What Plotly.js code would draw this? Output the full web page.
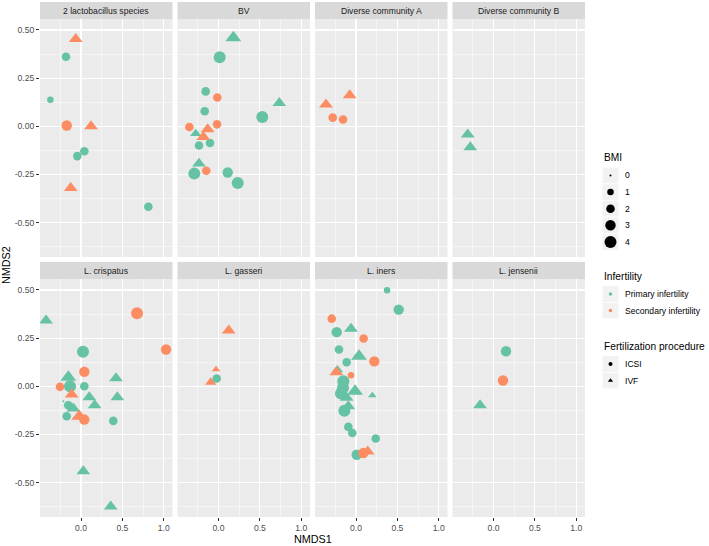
<!DOCTYPE html>
<html>
<head>
<meta charset="utf-8">
<script src="https://cdn.plot.ly/plotly-3.0.1.min.js"></script>
<style>
  html, body { margin: 0; padding: 0; background: #ffffff; }
  #nmds_plot { width: 709px; height: 546px; }
</style>
</head>
<body>
<div id="nmds_plot"></div>
<script>
var communities = [ '2 lactobacillus species', 'BV', 'Diverse community A', 'Diverse community B',
                    'L. crispatus', 'L. gasseri', 'L. iners', 'L. jensenii' ];

// one row per facet, same order as communities
var nmds1 =
[
    [ -0.064, -0.182, -0.371, -0.173, 0.121, -0.045, 0.040, -0.125, 0.814 ],
    [ 0.179, 0.014, -0.155, -0.015, -0.167, 0.735, 0.529, -0.353, -0.018, -0.276, -0.236, -0.103, -0.184, -0.131, -0.236, -0.293, -0.148, 0.111, 0.232 ],
    [ -0.363, -0.076, -0.282, -0.157 ],
    [ -0.312, -0.281 ],
    [ -0.423, 0.677, 1.028, 0.024, 0.040, -0.254, -0.154, -0.133, 0.040, 0.423, 0.439, -0.113, 0.100, 0.165, -0.214, -0.154, -0.093, -0.173, -0.021, 0.040, 0.390, 0.028, 0.359 ],
    [ 0.123, -0.030, -0.095, -0.022 ],
    [ 0.375, 0.516, -0.294, -0.234, -0.061, 0.092, -0.206, 0.036, 0.221, -0.113, -0.225, -0.238, -0.061, -0.153, -0.157, -0.012, 0.197, -0.182, -0.113, -0.093, -0.141, -0.093, -0.045, 0.238, 0.008, 0.088, 0.141 ],
    [ 0.151, 0.115, -0.163 ]
];

var nmds2 =
[
    [ 0.453, 0.361, 0.137, 0.004, 0.000, -0.155, -0.130, -0.321, -0.418 ],
    [ 0.460, 0.358, 0.181, 0.149, 0.078, 0.121, 0.048, -0.004, 0.010, -0.038, -0.100, -0.087, -0.056, -0.016, -0.194, -0.246, -0.231, -0.240, -0.295 ],
    [ 0.113, 0.161, 0.045, 0.035 ],
    [ -0.043, -0.109 ],
    [ 0.342, 0.379, 0.191, 0.179, 0.075, -0.003, 0.047, 0.000, 0.000, 0.042, -0.057, -0.043, -0.057, -0.099, -0.078, -0.099, -0.116, -0.156, -0.156, -0.173, -0.180, -0.441, -0.625 ],
    [ 0.290, 0.087, 0.021, 0.040 ],
    [ 0.498, 0.398, 0.351, 0.281, 0.299, 0.248, 0.191, 0.156, 0.129, 0.125, 0.085, 0.073, 0.057, 0.026, -0.008, -0.026, -0.048, -0.038, -0.060, -0.104, -0.127, -0.211, -0.243, -0.271, -0.356, -0.347, -0.339 ],
    [ 0.182, 0.030, -0.099 ]
];

var bmi =
[
    [ 3, 2, 1, 3, 3, 2, 2, 3, 2 ],
    [ 4, 4, 2, 2, 2, 3, 4, 2, 2, 2, 2, 2, 3, 3, 3, 4, 2, 3, 4 ],
    [ 3, 3, 2, 2 ],
    [ 3, 3 ],
    [ 3, 4, 3, 4, 3, 2, 4, 4, 2, 3, 3, 3, 3, 3, 0, 2, 3, 2, 4, 3, 2, 3, 3 ],
    [ 3, 1, 2, 2 ],
    [ 1, 3, 2, 3, 3, 2, 2, 4, 3, 2, 2, 3, 1, 4, 4, 4, 1, 4, 3, 3, 4, 2, 2, 2, 3, 3, 3 ],
    [ 3, 3, 3 ]
];

// P = Primary infertility, S = Secondary infertility
var infertility =
[
    [ 'S', 'P', 'P', 'S', 'S', 'P', 'P', 'S', 'P' ],
    [ 'P', 'P', 'P', 'S', 'P', 'P', 'P', 'S', 'S', 'P', 'P', 'P', 'S', 'S', 'P', 'P', 'S', 'P', 'P' ],
    [ 'S', 'S', 'S', 'S' ],
    [ 'P', 'P' ],
    [ 'P', 'S', 'S', 'P', 'S', 'S', 'P', 'P', 'P', 'P', 'P', 'S', 'P', 'P', 'P', 'P', 'P', 'P', 'S', 'S', 'P', 'P', 'P' ],
    [ 'S', 'S', 'S', 'P' ],
    [ 'P', 'P', 'S', 'P', 'P', 'S', 'P', 'P', 'S', 'P', 'P', 'S', 'S', 'P', 'P', 'P', 'P', 'P', 'P', 'P', 'P', 'P', 'P', 'P', 'P', 'S', 'S' ],
    [ 'P', 'S', 'P' ]
];

var procedure =
[
    [ 'IVF', 'ICSI', 'ICSI', 'ICSI', 'IVF', 'ICSI', 'ICSI', 'IVF', 'ICSI' ],
    [ 'IVF', 'ICSI', 'ICSI', 'ICSI', 'ICSI', 'IVF', 'ICSI', 'ICSI', 'ICSI', 'IVF', 'ICSI', 'ICSI', 'IVF', 'IVF', 'IVF', 'ICSI', 'ICSI', 'ICSI', 'ICSI' ],
    [ 'IVF', 'IVF', 'ICSI', 'ICSI' ],
    [ 'IVF', 'IVF' ],
    [ 'IVF', 'ICSI', 'ICSI', 'ICSI', 'ICSI', 'ICSI', 'IVF', 'ICSI', 'ICSI', 'IVF', 'IVF', 'IVF', 'IVF', 'IVF', 'ICSI', 'ICSI', 'IVF', 'ICSI', 'IVF', 'ICSI', 'ICSI', 'IVF', 'IVF' ],
    [ 'IVF', 'IVF', 'IVF', 'ICSI' ],
    [ 'ICSI', 'ICSI', 'ICSI', 'ICSI', 'IVF', 'ICSI', 'ICSI', 'IVF', 'ICSI', 'ICSI', 'IVF', 'IVF', 'ICSI', 'ICSI', 'ICSI', 'IVF', 'IVF', 'ICSI', 'IVF', 'IVF', 'ICSI', 'ICSI', 'ICSI', 'ICSI', 'ICSI', 'ICSI', 'IVF' ],
    [ 'ICSI', 'ICSI', 'IVF' ]
];

var bmi_levels = [ 0, 1, 2, 3, 4 ];
var infertility_labels = [ 'Primary infertility', 'Secondary infertility' ];
var procedure_labels = [ 'ICSI', 'IVF' ];

var x_ticks = [ 0, 0.5, 1 ];
var x_tick_text = [ '0.0', '0.5', '1.0' ];
var y_ticks = [ -0.5, -0.25, 0, 0.25, 0.5 ];
var y_tick_text = [ '-0.50', '-0.25', '0.00', '0.25', '0.50' ];

// ---- styling / geometry ----
var W = 709;
var H = 546;
var FONT = 'Liberation Sans, Arial, sans-serif';
var colors = { P: '#66C2A5', S: '#FC8D62' };
var symbols = { ICSI: 'circle', IVF: 'triangle-up' };
var size_px = [ 2, 6.5, 8.6, 10.4, 12 ];

var col_left = [ 40, 177.5, 315, 452.5 ];
var col_width = 132.5;
var rows = [ { strip: [ 2, 19 ], plot: [ 19, 257 ] }, { strip: [ 262, 279 ], plot: [ 279, 517 ] } ];

var x_range = [ -0.496, 1.106 ];
var y_range = [ -0.679, 0.557 ];

function px_x( p ) { return p / W; }
function px_y( p ) { return 1 - p / H; }

var data = [];
var layout =
{
    width: W,
    height: H,
    margin: { l: 0, r: 0, t: 0, b: 0 },
    paper_bgcolor: '#ffffff',
    plot_bgcolor: 'rgba(0,0,0,0)',
    showlegend: false,
    font: { family: FONT, size: 9, color: '#000000' },
    shapes: [],
    annotations: []
};

for ( var k = 0; k < communities.length; k++ )
{
    var row = Math.floor( k / 4 );
    var col = k % 4;
    var n = k + 1;
    var xa = 'xaxis' + ( n === 1 ? '' : n );
    var ya = 'yaxis' + ( n === 1 ? '' : n );
    var x0 = col_left[ col ];
    var x1 = x0 + col_width;
    var r = rows[ row ];

    layout[ xa ] =
    {
        domain: [ px_x( x0 ), px_x( x1 ) ],
        anchor: 'y' + ( n === 1 ? '' : n ),
        range: x_range,
        fixedrange: true,
        zeroline: false,
        showline: false,
        tickmode: 'array',
        tickvals: x_ticks,
        ticktext: x_tick_text,
        showticklabels: row === 1,
        ticks: row === 1 ? 'outside' : '',
        ticklen: 3,
        tickwidth: 1,
        tickcolor: '#333333',
        tickfont: { family: FONT, size: 8.6, color: '#4D4D4D' },
        showgrid: true,
        gridcolor: '#ffffff',
        gridwidth: 1.1,
        minor: { tickmode: 'array', tickvals: [ -0.25, 0.25, 0.75 ], showgrid: true, gridcolor: '#ffffff', gridwidth: 0.5, ticks: '' }
    };
    layout[ ya ] =
    {
        domain: [ px_y( r.plot[ 1 ] ), px_y( r.plot[ 0 ] ) ],
        anchor: 'x' + ( n === 1 ? '' : n ),
        range: y_range,
        fixedrange: true,
        zeroline: false,
        showline: false,
        tickmode: 'array',
        tickvals: y_ticks,
        ticktext: y_tick_text,
        showticklabels: col === 0,
        ticks: col === 0 ? 'outside' : '',
        ticklen: 3,
        tickwidth: 1,
        tickcolor: '#333333',
        tickfont: { family: FONT, size: 8.6, color: '#4D4D4D' },
        showgrid: true,
        gridcolor: '#ffffff',
        gridwidth: 1.1,
        minor: { tickmode: 'array', tickvals: [ -0.625, -0.375, -0.125, 0.125, 0.375 ], showgrid: true, gridcolor: '#ffffff', gridwidth: 0.5, ticks: '' }
    };

    // panel background and strip
    layout.shapes.push(
        {
            type: 'rect', xref: 'paper', yref: 'paper', layer: 'below',
            x0: px_x( x0 ), x1: px_x( x1 ), y0: px_y( r.plot[ 1 ] ), y1: px_y( r.plot[ 0 ] ),
            fillcolor: '#EBEBEB', line: { width: 0 }
        },
        {
            type: 'rect', xref: 'paper', yref: 'paper', layer: 'below',
            x0: px_x( x0 ), x1: px_x( x1 ), y0: px_y( r.strip[ 1 ] ), y1: px_y( r.strip[ 0 ] ),
            fillcolor: '#D9D9D9', line: { width: 0 }
        }
    );
    layout.annotations.push(
        {
            xref: 'paper', yref: 'paper', showarrow: false,
            x: px_x( ( x0 + x1 ) / 2 ), y: px_y( ( r.strip[ 0 ] + r.strip[ 1 ] ) / 2 ),
            xanchor: 'center', yanchor: 'middle',
            text: communities[ k ],
            font: { family: FONT, size: 8.6, color: '#1A1A1A' }
        }
    );

    var sizes = [];
    var cols = [];
    var syms = [];
    for ( var i = 0; i < nmds1[ k ].length; i++ )
    {
        var s = size_px[ bmi[ k ][ i ] ];
        if ( procedure[ k ][ i ] === 'IVF' ) s *= 1.15;
        sizes.push( s );
        cols.push( colors[ infertility[ k ][ i ] ] );
        syms.push( symbols[ procedure[ k ][ i ] ] );
    }
    data.push(
        {
            type: 'scatter',
            mode: 'markers',
            xaxis: 'x' + ( n === 1 ? '' : n ),
            yaxis: 'y' + ( n === 1 ? '' : n ),
            x: nmds1[ k ],
            y: nmds2[ k ],
            hoverinfo: 'x+y',
            marker: { size: sizes, color: cols, symbol: syms, opacity: 1, line: { width: 0 } }
        }
    );
}

// axis titles
layout.annotations.push(
    {
        xref: 'paper', yref: 'paper', showarrow: false,
        x: px_x( 312.5 ), y: px_y( 539 ), xanchor: 'center', yanchor: 'middle',
        text: 'NMDS1', font: { family: FONT, size: 10.8, color: '#000000' }
    },
    {
        xref: 'paper', yref: 'paper', showarrow: false,
        x: px_x( 6 ), y: px_y( 265 ), xanchor: 'center', yanchor: 'middle', textangle: -90,
        text: 'NMDS2', font: { family: FONT, size: 10.8, color: '#000000' }
    }
);

// ---- legends, drawn on a hidden pixel-space axis ----
layout.xaxis9 = { domain: [ 0, 1 ], range: [ 0, W ], visible: false, fixedrange: true, anchor: 'y9' };
layout.yaxis9 = { domain: [ 0, 1 ], range: [ H, 0 ], visible: false, fixedrange: true, anchor: 'x9' };

var legend_left = 602;
var key_cx = 610.5;
var label_x = 623;
var item_h = 16.6;

function legend_title( text, y )
{
    layout.annotations.push(
        {
            xref: 'paper', yref: 'paper', showarrow: false,
            x: px_x( legend_left ), y: px_y( y ), xanchor: 'left', yanchor: 'middle',
            text: text, font: { family: FONT, size: 10.2, color: '#000000' }
        }
    );
}

function legend_item( text, y )
{
    layout.shapes.push(
        {
            type: 'rect', xref: 'paper', yref: 'paper', layer: 'below',
            x0: px_x( key_cx - 8 ), x1: px_x( key_cx + 8 ),
            y0: px_y( y + item_h / 2 - 0.5 ), y1: px_y( y - item_h / 2 + 0.5 ),
            fillcolor: '#F2F2F2', line: { width: 0 }
        }
    );
    layout.annotations.push(
        {
            xref: 'paper', yref: 'paper', showarrow: false,
            x: px_x( label_x ), y: px_y( y ), xanchor: 'left', yanchor: 'middle',
            text: text, font: { family: FONT, size: 8.6, color: '#000000' }
        }
    );
}

var key_x = [];
var key_y = [];
var key_size = [];
var key_color = [];
var key_symbol = [];

legend_title( 'BMI', 157 );
var y_item = 175.5;
for ( var b = 0; b < bmi_levels.length; b++ )
{
    legend_item( String( bmi_levels[ b ] ), y_item );
    key_x.push( key_cx );
    key_y.push( y_item );
    key_size.push( size_px[ bmi_levels[ b ] ] );
    key_color.push( '#000000' );
    key_symbol.push( 'circle' );
    y_item += item_h;
}

legend_title( 'Infertility', 276 );
y_item = 294;
var inf_codes = [ 'P', 'S' ];
for ( var f = 0; f < infertility_labels.length; f++ )
{
    legend_item( infertility_labels[ f ], y_item );
    key_x.push( key_cx );
    key_y.push( y_item );
    key_size.push( 3.5 );
    key_color.push( colors[ inf_codes[ f ] ] );
    key_symbol.push( 'circle' );
    y_item += item_h;
}

legend_title( 'Fertilization procedure', 346 );
y_item = 364;
for ( var p = 0; p < procedure_labels.length; p++ )
{
    legend_item( procedure_labels[ p ], y_item );
    key_x.push( key_cx );
    key_y.push( y_item );
    key_size.push( p === 0 ? 4 : 4.6 );
    key_color.push( '#000000' );
    key_symbol.push( symbols[ procedure_labels[ p ] ] );
    y_item += item_h;
}

data.push(
    {
        type: 'scatter',
        mode: 'markers',
        xaxis: 'x9',
        yaxis: 'y9',
        x: key_x,
        y: key_y,
        hoverinfo: 'skip',
        cliponaxis: false,
        marker: { size: key_size, color: key_color, symbol: key_symbol, opacity: 1, line: { width: 0 } }
    }
);

Plotly.newPlot( 'nmds_plot', data, layout, { staticPlot: true, responsive: false } );
</script>
</body>
</html>
